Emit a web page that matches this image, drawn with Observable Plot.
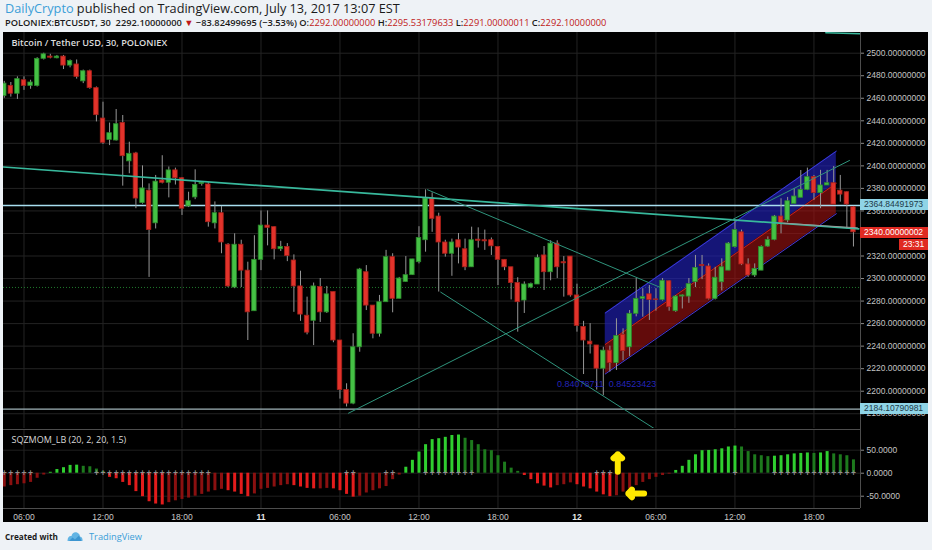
<!DOCTYPE html>
<html>
<head>
<meta charset="utf-8">
<script src="https://cdn.jsdelivr.net/npm/d3@7"></script>
<script src="https://cdn.jsdelivr.net/npm/@observablehq/plot@0.6"></script>
<style>
html,body{margin:0;padding:0}
body{width:932px;height:550px;background:#eef2f6;position:relative;overflow:hidden;font-family:"Open Sans",sans-serif}
.hdr{position:absolute;left:5px;white-space:nowrap;color:#1a1a1a;line-height:16px}
#l1{top:0;font-size:12px}
#l2{top:15px;font-size:10.5px;font-weight:600}
#l2 .red{font-weight:400}
.red{color:#c01818}
.blue{color:#3b9ed8}
#chart{position:absolute;left:3px;top:32px;width:925px;height:490px;background:#000;overflow:hidden}
#main{position:absolute;left:0;top:0}
#ind{position:absolute;left:0;top:397px}
.sep{position:absolute;background:#4d4d4d}
.lbl{position:absolute;font-family:"Liberation Sans",sans-serif;font-size:8.5px;line-height:11px;height:11px;padding-left:4px;white-space:nowrap;box-sizing:border-box}
.ft{position:absolute;white-space:nowrap;line-height:16px;top:529px}
</style>
</head>
<body>
<div id="l1" class="hdr"><span class="blue">DailyCrypto</span> published on TradingView.com, July 13, 2017 13:07 EST</div>
<div id="l2" class="hdr">POLONIEX:BTCUSDT, 30&nbsp; 2292.10000000 <span class="red">▼</span> −83.82499695 (−3.53%) O:<span class="red">2292.00000000</span> H:<span class="red">2295.53179633</span> L:<span class="red">2291.00000011</span> C:<span class="red">2292.10000000</span></div>
<div id="chart"></div>
<div id="fc" class="ft" style="left:5px;font-weight:700;color:#1a1a1a;font-size:10px">Created with</div>
<svg style="position:absolute;left:67px;top:531px" width="16" height="11" viewBox="0 0 16 11"><path d="M0.5 10 C0.5 6 2.5 4.5 4.5 5 C5 2 7.5 0.5 10 1.5 C12.5 2.5 13 4.5 12.8 5.5 C15 5.8 15.8 8 15.5 10 Z" fill="#62b4e4"/><path d="M2 10 L5.5 6.5 L8 8.5 L12 4.5 L14.5 10 Z" fill="#3c95d0"/></svg>
<div id="ftv" class="ft blue" style="left:89px;font-size:10px">TradingView</div>
<script>
// ---------- data ----------
const firstK = -3; // bar index of the first (partly visible) 30-min candle; k=0 is 06:00 July 10
const opens = [2462,2471,2464,2476,2471,2471,2495,2497,2495.5,2497,2489,2490,2475,2484,2469,2442,2423,2422.5,2438,2404,2411,2367,2378,2349,2387,2385,2396,2389,2364,2372,2384,2383.5,2349,2358,2330,2292,2330,2307,2271,2316.6,2347,2345.6,2326,2328,2316,2293,2267,2262.5,2292.5,2270,2288,2245,2201,2189,2239,2305.6,2276,2251,2279,2319,2282,2297,2303,2314.5,2334,2371,2355,2332,2322,2334,2326,2310,2334.5,2334,2334,2328,2316.6,2310,2296,2280.5,2292,2294.7,2320.5,2305.6,2331,2314.5,2319.5,2285,2257,2244,2240.6,2220,2236,2225,2250,2239,2268.7,2282,2286,2281.5,2281,2297.6,2271,2284,2284,2296.8,2312,2310.7,2282,2296.7,2307,2328,2341,2312.5,2302.7,2307,2328.4,2334.3,2355,2351.5,2366.3,2371.7,2378.7,2390,2375.8,2382.6,2384.6,2378,2376.6,2363.3];
const highs = [2475,2474,2479,2479,2476,2496,2500,2499,2498,2498,2494,2494,2485,2485,2470,2456.5,2438,2450,2444.7,2421,2412,2400,2384,2391.5,2409,2399,2398,2389.5,2376.6,2396.5,2386,2385,2368,2364,2331,2339.7,2334,2314.5,2338,2360,2360,2346,2333,2331,2321,2306.5,2283.5,2296,2300,2293,2288,2245,2206.6,2251,2309,2311.5,2276,2285,2325,2322,2301,2319.5,2317,2346,2378.7,2376,2358,2334,2335,2340,2335,2345.6,2345,2343,2336,2328,2316.6,2310,2300.7,2297,2296,2321,2328.4,2333.5,2333.5,2319.5,2319.5,2295,2262,2260,2240.6,2239,2240,2264.3,2255.4,2271.6,2300,2291,2293.8,2291,2300,2298,2285,2285.5,2300,2320.5,2320.5,2313,2310,2317.5,2332,2351.5,2343,2317.5,2313,2329,2337,2356,2370.8,2372,2379.7,2395.9,2398,2391.5,2396,2396,2399.4,2391.5,2377,2364];
const lows = [2460,2461,2459,2467,2468,2470,2494,2495,2495,2485.5,2487,2477,2473,2468,2439,2419,2418,2422,2382,2393,2362,2366,2301,2344,2384,2371.6,2383,2356,2363,2370,2382,2345.6,2344,2322,2292,2291,2292,2245,2271,2307,2329,2316.6,2324,2315,2270,2262,2250,2240.5,2261,2269,2243,2193,2186,2188,2234.6,2271.6,2246.5,2248,2279,2269.6,2282,2296.5,2302.7,2313,2323.4,2341,2288,2319,2302,2313,2307,2310,2327,2325,2320.5,2293.8,2307,2281,2252.4,2269,2291,2294.7,2289.4,2298,2300,2283.5,2283.5,2252.4,2214.8,2233,2201,2196,2217,2218.4,2227,2230.6,2266,2265.7,2262.8,2271,2280,2271,2270,2273,2278,2292,2299,2281,2281,2289,2307,2327,2311.5,2301,2301,2307,2327.7,2333.5,2339.7,2349.5,2366.3,2371.7,2378,2369.3,2362,2382.6,2365.7,2367.8,2344,2328];
const closes = [2473,2464,2477,2471,2474,2495,2499,2496,2497,2489,2493,2479,2484,2469,2445,2420.5,2429,2437,2408.6,2410.7,2371,2380,2343,2386,2385,2396,2389,2362,2368.6,2383,2385,2350,2358,2332,2293,2330,2307,2270,2316.6,2347,2345,2326,2328,2320,2293,2268,2252,2293,2270,2286,2245,2201,2189,2239,2308,2276,2251,2279,2319,2282,2300,2303,2317,2336,2371,2353,2332,2322,2332,2327.5,2310,2334,2333.5,2333,2328.6,2316.6,2310,2296,2279,2294.7,2295,2318.4,2305.6,2331,2310,2313.5,2285,2258,2245,2241.5,2220,2236,2225,2249,2235.6,2268.7,2282,2283.5,2281,2281,2298,2274.6,2284,2285,2295,2309.4,2311,2282,2300.7,2310,2331,2343,2312.5,2302.7,2308.6,2328,2334.3,2355,2348.6,2368.6,2372.8,2378.7,2390,2375.8,2382.6,2384.6,2365.7,2374.5,2365.7,2341];
const momentum = [-30,-27,-25,-23,-20,-11,-4,2,8,12,17,17.5,15,14,9,4,-9,-12,-20,-27,-40,-51,-62,-67,-69,-64,-60,-57,-54,-50,-46,-41,-38,-35,-38,-41,-46,-51,-45,-35,-33,-30,-27,-25,-27,-30,-33,-34,-34,-33,-34,-38,-46,-52,-50,-43,-38,-34,-29,-14,-4,13,28,46,62,73,75,78,82,83,76,71,62,51,49,38,24,11,4,-5,-14,-23,-28,-32,-27,-25,-21,-25,-30,-34,-41,-47,-51,-49,-41,-34,-27,-20,-14,-9,-5,-2,6,15,28,40,49,49.5,51,53,57,59,57,47,40,38,36,37,38,40,42,43,44,43,44,47,42,40,38,29];
const squeezeOffK = [-3,-2,-1,0,1,11,12,13,14,15,16,17,18,19,20,21,22,23,24,25,26,27,28,49,50,55,56,61,62,63,64,65,66,67,68,87,88,89,108,114,115,116,117,118,119,120,121,122,123,124,125,126];

const priceTicks = [2180,2200,2220,2240,2260,2280,2300,2320,2340,2360,2380,2400,2420,2440,2460,2480,2500];
const hiddenPriceLabels = [2340]; // fully covered by the last-price tag
const momTicks = [50,0,-50];
const timeTickK = [0,12,24,36,48,60,72,84,96,108,120];
const timeTickLabels = ["06:00","12:00","18:00","11","06:00","12:00","18:00","12","06:00","12:00","18:00"];

// drawings (bar index, price)
const trendMain = [{k:-3.1,p:2399},{k:126.8,p:2344}];
const trendRise = [{k:49.3,p:2180.5},{k:125.4,p:2404.8}];
const trendFallA = [{k:61.3,p:2378.8},{k:96.7,p:2292}];
const trendFallB = [{k:63.3,p:2287.9},{k:96.2,p:2165.1}];
const trendGrey = [{k:115.4,p:2349.1},{k:126.6,p:2345}];
const trendTop = [{k:121.8,p:2518.1},{k:127.2,p:2517.2}];
const levelBlue = 2364.84491973;
const levelLow = 2184.10790981;
const levelPrev = 2292.1;
const lastPrice = 2340.00000002;
const countdown = "23:31";
const channelK = [88.3,123.4];
const channelUpper = [2269.4,2413];
const channelMid = [2241.5,2384.5];
const channelLower = [2215.3,2357.5];
const channelText = "0.84078711  0.84523423";
const channelTextPos = {k:88.5,p:2205.9};
const arrowsX1 = [90.2,94.2], arrowsY1 = [3,-44], arrowsX2 = [90.2,91.8], arrowsY2 = [41,-44];

// ---------- build ----------
const candles = opens.map((o,i)=>({k:i+firstK,o,h:highs[i],l:lows[i],c:closes[i]}));
const mom = momentum.map((v,i)=>{
  const prev = i>0 ? momentum[i-1] : v;
  const color = v>=0 ? (v>prev ? "#2fcf2f" : "#1d7a1d") : (v<prev ? "#e31c1c" : "#8a1010");
  return {k:i+firstK,v,color};
});
const ch = (arr)=>channelK.map((k,i)=>({k,p:arr[i]}));
const band = channelK.map((k,i)=>({k,lo:channelLower[i],mid:channelMid[i],up:channelUpper[i]}));
const labelOf = new Map(timeTickK.map((k,i)=>[k,timeTickLabels[i]]));
const xDomain = [-3.114,127.07];
const axisFont = "Liberation Sans, sans-serif";
const GREEN = "#45c145", RED = "#e2332b";

const main = Plot.plot({
  width:925,height:397,marginLeft:0,marginRight:68,marginTop:0,marginBottom:1,
  style:{background:"transparent",color:"#c8c8c8",fontFamily:axisFont,fontSize:"8.5px"},
  x:{domain:xDomain,axis:null},
  y:{domain:[2166.9,2518.37],axis:null},
  color:{type:"identity"},
  marks:[
    Plot.ruleY(priceTicks,{stroke:"#232323"}),
    Plot.ruleX(timeTickK,{stroke:"#232323"}),
    Plot.ruleY([levelPrev],{stroke:"#1f7a2c",strokeDasharray:"1,2"}),
    Plot.areaY(band,{x:"k",y1:"mid",y2:"up",fill:"#2222c0",fillOpacity:0.62}),
    Plot.areaY(band,{x:"k",y1:"lo",y2:"mid",fill:"#a31212",fillOpacity:0.6}),
    Plot.line(ch(channelUpper),{x:"k",y:"p",stroke:"#3a3ad8",strokeWidth:1}),
    Plot.line(ch(channelMid),{x:"k",y:"p",stroke:"#c42020",strokeWidth:1}),
    Plot.line(ch(channelLower),{x:"k",y:"p",stroke:"#4a3ad8",strokeWidth:1}),
    Plot.ruleY([levelBlue],{stroke:"#a8def0",strokeWidth:1.3}),
    Plot.ruleY([levelLow],{stroke:"#9fb3b8",strokeWidth:1.2}),
    Plot.ruleX(candles,{x:"k",y1:"l",y2:"h",stroke:"#979797",strokeWidth:1,clip:true}),
    Plot.rect(candles,{x1:d=>d.k-0.34,x2:d=>d.k+0.34,y1:"o",y2:"c",
      fill:d=>d.c>=d.o?GREEN:RED, stroke:d=>d.c>=d.o?"#2c8a2c":"#a8201a",strokeWidth:0.8,clip:true}),
    Plot.line(trendMain,{x:"k",y:"p",stroke:"#38b89c",strokeWidth:1.7,clip:true}),
    Plot.line(trendRise,{x:"k",y:"p",stroke:"#2f947c",strokeWidth:1,clip:true}),
    Plot.line(trendFallA,{x:"k",y:"p",stroke:"#2f947c",strokeWidth:1,clip:true}),
    Plot.line(trendFallB,{x:"k",y:"p",stroke:"#2f947c",strokeWidth:1,clip:true}),
    Plot.line(trendGrey,{x:"k",y:"p",stroke:"#9a9a9a",strokeWidth:1,clip:true}),
    Plot.line(trendTop,{x:"k",y:"p",stroke:"#38b89c",strokeWidth:1.5,clip:true}),
    Plot.text([channelText],{x:channelTextPos.k,y:channelTextPos.p,fill:"#2424b8",fontSize:9}),
    Plot.axisY({anchor:"right",ticks:priceTicks.filter(t=>!hiddenPriceLabels.includes(t)),tickFormat:d=>d.toFixed(8),tickSize:3,tickPadding:3,fill:"#c4c4c4",stroke:"#8a8a8a",fontSize:8.5}),
    Plot.text(["Bitcoin / Tether USD, 30, POLONIEX"],{frameAnchor:"top-left",dx:8,dy:7,fill:"#dcdcdc",fontSize:9.2,fontWeight:600,fontFamily:"Open Sans, sans-serif"})
  ]
});
main.id = "main";

const ind = Plot.plot({
  width:925,height:93,marginLeft:0,marginRight:68,marginTop:0,marginBottom:14,
  style:{background:"transparent",color:"#c8c8c8",fontFamily:axisFont,fontSize:"8.5px"},
  x:{domain:xDomain,axis:null},
  y:{domain:[-76.7,95],axis:null},
  color:{type:"identity"},
  marks:[
    Plot.ruleY(momTicks,{stroke:"#1f1f1f"}),
    Plot.ruleX(timeTickK,{stroke:"#232323"}),
    Plot.ruleX(mom,{x:"k",y1:0,y2:"v",stroke:"color",strokeWidth:3,clip:true}),
    Plot.text(squeezeOffK,{x:d=>d,y:0,text:()=>"+",fill:"#8e8e8e",fontSize:8.5,fontWeight:700,clip:true}),
    Plot.arrow(arrowsX1.map((x1,i)=>({x1,y1:arrowsY1[i],x2:arrowsX2[i],y2:arrowsY2[i]})),
      {x1:"x1",y1:"y1",x2:"x2",y2:"y2",stroke:"#ffe800",strokeWidth:6,headLength:10,headAngle:95}),
    Plot.axisY({anchor:"right",ticks:momTicks,tickFormat:d=>d.toFixed(4),tickSize:3,tickPadding:3,fill:"#c4c4c4",stroke:"#8a8a8a",fontSize:8.5}),
    Plot.axisX({ticks:timeTickK.filter(k=>labelOf.get(k).includes(":")),tickFormat:k=>labelOf.get(k),tickSize:0,tickPadding:5,fill:"#c8c8c8",fontSize:8.5}),
    Plot.axisX({ticks:timeTickK.filter(k=>!labelOf.get(k).includes(":")),tickFormat:k=>labelOf.get(k),tickSize:0,tickPadding:5,fill:"#e8e8e8",fontSize:8.5,fontWeight:"bold"}),
    Plot.text(["SQZMOM_LB (20, 2, 20, 1.5)"],{frameAnchor:"top-left",dx:8,dy:7,fill:"#d8d8d8",fontSize:9,fontFamily:"Open Sans, sans-serif"})
  ]
});
ind.id = "ind";

const chart = document.getElementById("chart");
chart.appendChild(main);
chart.appendChild(ind);

// panel separators
function sep(l,t,w,h){const d=document.createElement("div");d.className="sep";Object.assign(d.style,{left:l+"px",top:t+"px",width:w+"px",height:h+"px"});chart.appendChild(d);}
sep(857,0,1,476);      // price axis border
sep(0,397,857,1);      // between panels
sep(0,476,857,1);      // above time axis

// price tags on the axis
const ys = main.scale("y");
function lbl(text,value,bg,fg,left){
  const d=document.createElement("div");d.className="lbl";d.textContent=text;
  Object.assign(d.style,{left:left+"px",width:(925-left)+"px",top:(ys.apply(value)-5.5)+"px",background:bg,color:fg});
  chart.appendChild(d);
}
lbl(levelBlue.toFixed(8),levelBlue,"#8fd4e6","#1d3a48",857);
lbl(levelLow.toFixed(8),levelLow,"#8fd4e6","#1d3a48",857);
lbl(lastPrice.toFixed(8),lastPrice,"#e02a22","#ffffff",857);
const cd=document.createElement("div");cd.className="lbl";cd.textContent=countdown;
Object.assign(cd.style,{left:"896px",width:"29px",top:(ys.apply(lastPrice)+6.5)+"px",background:"#e02a22",color:"#fff"});
chart.appendChild(cd);

// fit header / footer texts to their widths
function fit(id,w){const el=document.getElementById(id);el.style.display="inline-block";const r=el.getBoundingClientRect().width;const fs=parseFloat(getComputedStyle(el).fontSize);el.style.fontSize=(fs*w/r)+"px";}
fit("l1",395);fit("l2",602);fit("fc",53);fit("ftv",53);
</script>
</body>
</html>
